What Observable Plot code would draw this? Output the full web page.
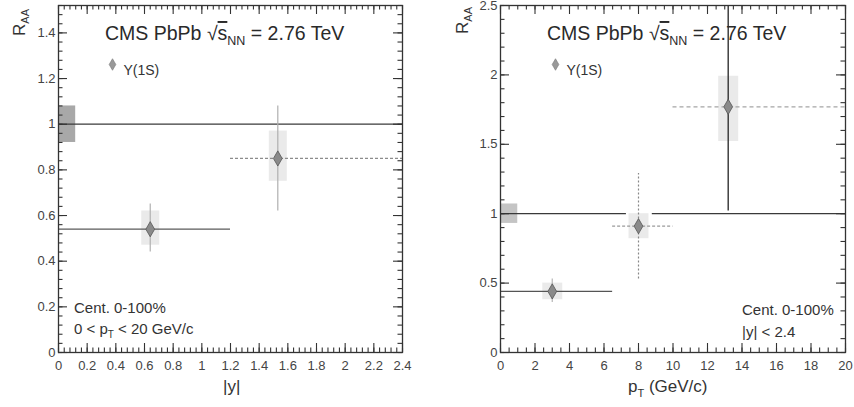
<!DOCTYPE html>
<html><head><meta charset="utf-8">
<script src="https://cdn.jsdelivr.net/npm/d3@7"></script>
<script src="https://cdn.jsdelivr.net/npm/@observablehq/plot@0.6"></script>
<style>
body{margin:0;background:#fff;}
#wrap{display:flex;width:854px;height:407px;overflow:hidden;}
svg{font-family:"Liberation Sans",Arial,sans-serif;}
</style></head><body><div id="wrap"></div>
<script>
// ---- Left panel: R_AA vs |y| ----
const yBinCenters = [0.64, 1.53];
const yBinLow = [0, 1.2];
const yBinHigh = [1.2, 2.4];
const raaVsY = [0.54, 0.85];
const raaVsYStatLo = [0.44, 0.62];
const raaVsYStatHi = [0.65, 1.08];
const raaVsYSystLo = [0.47, 0.75];
const raaVsYSystHi = [0.62, 0.97];
const globalBoxLeft = [{x1: 0, x2: 0.12, y1: 0.92, y2: 1.08}];
const unityLeft = [{x1: 0, x2: 2.4, y: 1}];
const xTicksLeft = [0, 0.2, 0.4, 0.6, 0.8, 1, 1.2, 1.4, 1.6, 1.8, 2, 2.2, 2.4];
const yTicksLeft = [0, 0.2, 0.4, 0.6, 0.8, 1, 1.2, 1.4];

// ---- Right panel: R_AA vs pT ----
const ptBinCenters = [3.0, 8.0, 13.2];
const ptBinLow = [0, 6.5, 10];
const ptBinHigh = [6.5, 10, 20];
const raaVsPt = [0.44, 0.91, 1.77];
const raaVsPtStatLo = [0.36, 0.53, 1.02];
const raaVsPtStatHi = [0.53, 1.29, 2.5];
const raaVsPtSystLo = [0.38, 0.82, 1.52];
const raaVsPtSystHi = [0.50, 1.00, 1.99];
const globalBoxRight = [{x1: 0, x2: 1, y1: 0.93, y2: 1.07}];
const unityRight = [{x1: 0, x2: 7.3, y: 1}, {x1: 8.8, x2: 20, y: 1}];
const xTicksRight = [0, 2, 4, 6, 8, 10, 12, 14, 16, 18, 20];
const yTicksRight = [0, 0.5, 1, 1.5, 2, 2.5];

const titleText = ["CMS PbPb ", "√", "s", "NN", " = 2.76 TeV"];
const legendLabel = "Υ(1S)";

const rowsLeft = yBinCenters.map((x, i) => ({x, lo: yBinLow[i], hi: yBinHigh[i], raa: raaVsY[i],
  sLo: raaVsYStatLo[i], sHi: raaVsYStatHi[i], yLo: raaVsYSystLo[i], yHi: raaVsYSystHi[i]}));
const rowsRight = ptBinCenters.map((x, i) => ({x, lo: ptBinLow[i], hi: ptBinHigh[i], raa: raaVsPt[i],
  sLo: raaVsPtStatLo[i], sHi: raaVsPtStatHi[i], yLo: raaVsPtSystLo[i], yHi: raaVsPtSystHi[i]}));

function minor(domain, step) { return d3.range(domain[0], domain[1] + step / 2, step); }

function makePanel(cfg) {
  const H = 407, mt = 5, mb = 55;
  const rows = cfg.rows;
  const marks = [
    Plot.rect(cfg.globalBox, {x1: "x1", x2: "x2", y1: "y1", y2: "y2", fill: cfg.globalFill}),
    Plot.ruleX(rows, {x: "x", y1: "yLo", y2: "yHi", stroke: "#bbb", strokeOpacity: 0.3, strokeWidth: cfg.boxW}),
    Plot.ruleY(cfg.unity, {x1: "x1", x2: "x2", y: "y", stroke: "#3a3a3a", strokeWidth: 1.3}),
  ];
  cfg.hStyles.forEach((s, i) => marks.push(
    Plot.ruleY(rows, {filter: (d, j) => j === i, x1: "lo", x2: "hi", y: "raa", stroke: s[0], strokeWidth: 1.2, strokeDasharray: s[1]})));
  cfg.vStyles.forEach((s, i) => marks.push(
    Plot.ruleX(rows, {filter: (d, j) => j === i, x: "x", y1: "sLo", y2: "sHi", stroke: s[0], strokeWidth: s[2] || 1.2, strokeDasharray: s[1]})));
  marks.push(Plot.dot(rows, {x: "x", y: "raa", symbol: "diamond", r: 4.6, fill: "#8a8a8a", stroke: "#555", strokeWidth: 0.8}));
  marks.push(Plot.frame({stroke: "#333", strokeWidth: 1.3}));
  marks.push(Plot.axisX(cfg.xTicks, {tickSize: 0, tickPadding: 8, label: null, fontSize: 13, fill: "#444", tickFormat: d => `${d}`}));
  marks.push(Plot.axisY(cfg.yTicks, {tickSize: 0, tickPadding: 3, label: null, fontSize: 13, fill: "#444", tickFormat: d => `${d}`}));
  marks.push(Plot.dot([legendLabel], {frameAnchor: "top-left", dx: cfg.legX - cfg.ml, dy: 59, symbol: "diamond", r: 3.5, fill: "#999", stroke: "#777", strokeWidth: 0.6}));
  marks.push(Plot.text([legendLabel], {text: d => d, frameAnchor: "top-left", dx: cfg.legX - cfg.ml + 11, dy: 60, textAnchor: "start", fontSize: 14, fill: "#333"}));

  const svg = Plot.plot({
    width: cfg.width, height: H, marginLeft: cfg.ml, marginRight: cfg.mr, marginTop: mt, marginBottom: mb,
    x: {domain: cfg.xDomain}, y: {domain: cfg.yDomain},
    style: {fontFamily: '"Liberation Sans", Arial, sans-serif', background: "#fff", overflow: "visible"},
    marks
  });
  const s = d3.select(svg);
  const fam = '"Liberation Sans", Arial, sans-serif';

  // inward frame ticks (ROOT style), positioned with the plot's own scales
  const scX = svg.scale && svg.scale("x"), scY = svg.scale && svg.scale("y");
  const fx = scX && scX.apply ? scX.apply : d3.scaleLinear(cfg.xDomain, [cfg.ml, cfg.width - cfg.mr]);
  const fy = scY && scY.apply ? scY.apply : d3.scaleLinear(cfg.yDomain, [H - mb, mt]);
  const L = cfg.ml, R = cfg.width - cfg.mr, B = H - mb, Tp = mt;
  const g = s.append("g").attr("stroke", "#333").attr("stroke-width", 1.1);
  const hLine = (x1, x2, y) => g.append("line").attr("x1", x1).attr("x2", x2).attr("y1", y).attr("y2", y);
  const vLine = (x, y1, y2) => g.append("line").attr("x1", x).attr("x2", x).attr("y1", y1).attr("y2", y2);
  const xMin = minor(cfg.xDomain, cfg.xMinor), yMin = minor(cfg.yDomain, cfg.yMinor);
  cfg.xTicks.forEach(v => { const p = fx(v) + 0.5; vLine(p, B, B - 9); vLine(p, Tp, Tp + 9); });
  xMin.forEach(v => { const p = fx(v) + 0.5; vLine(p, B, B - 4.5); vLine(p, Tp, Tp + 4.5); });
  cfg.yTicks.forEach(v => { const p = fy(v) + 0.5; hLine(L, L + 9, p); hLine(R, R - 9, p); });
  yMin.forEach(v => { const p = fy(v) + 0.5; hLine(L, L + 4.5, p); hLine(R, R - 4.5, p); });

  const T = (x, y, size) => s.append("text").attr("x", x).attr("y", y).attr("font-size", size)
    .attr("fill", "#2a2a2a").attr("font-family", fam).attr("text-anchor", "start");
  // title
  const t = T(cfg.titleX, 40, 19.5);
  t.append("tspan").text(titleText[0]);
  t.append("tspan").text(titleText[1]);
  t.append("tspan").text(titleText[2]).attr("text-decoration", "overline");
  t.append("tspan").text(titleText[3]).attr("font-size", 12.5).attr("dy", 5);
  t.append("tspan").text(titleText[4]).attr("dy", -5);
  // R_AA
  const r = s.append("text").attr("transform", `translate(${cfg.raaX},${cfg.raaY}) rotate(-90)`)
    .attr("text-anchor", "end").attr("font-size", 17).attr("fill", "#333").attr("font-family", fam);
  r.append("tspan").text("R");
  r.append("tspan").text("AA").attr("font-size", 11).attr("dy", 4);
  // x label
  const xl = T(cfg.xLabX, 392, 17).attr("fill", "#333");
  cfg.xLabel.forEach(p => { const ts = xl.append("tspan").text(p[0]); if (p[1]) ts.attr("dy", p[1]); if (p[2]) ts.attr("font-size", 11); });
  // annotations
  cfg.notes.forEach(n => {
    const tx = T(n.x, n.y, 15).attr("fill", "#333");
    n.parts.forEach(p => { const ts = tx.append("tspan").text(p[0]); if (p[1]) ts.attr("dy", p[1]); if (p[2]) ts.attr("font-size", 10); });
  });
  return svg;
}

const wrap = document.getElementById("wrap");
wrap.appendChild(makePanel({
  width: 430, ml: 58, mr: 28, xDomain: [0, 2.4], yDomain: [0, 1.52], xMinor: 0.04, yMinor: 0.04,
  xTicks: xTicksLeft, yTicks: yTicksLeft, rows: rowsLeft, globalBox: globalBoxLeft, globalFill: "#a8a8a8",
  unity: unityLeft, boxW: 18,
  hStyles: [["#5a5a5a", null], ["#8c8c8c", "3,2"]],
  vStyles: [["#b0b0b0", null], ["#b0b0b0", null]],
  titleX: 105, legX: 112, raaX: 25, raaY: 9,
  xLabX: 223, xLabel: [["|y|"]],
  notes: [
    {x: 74, y: 313, parts: [["Cent. 0-100%"]]},
    {x: 74, y: 334, parts: [["0 < p"], ["T", 4, true], [" < 20 GeV/c", -4]]}
  ]
}));
wrap.appendChild(makePanel({
  width: 424, ml: 70, mr: 9, xDomain: [0, 20], yDomain: [0, 2.5], xMinor: 0.5, yMinor: 0.1,
  xTicks: xTicksRight, yTicks: yTicksRight, rows: rowsRight, globalBox: globalBoxRight, globalFill: "#c4c4c4",
  unity: unityRight, boxW: 20,
  hStyles: [["#555", null], ["#9a9a9a", "3,2"], ["#a5a5a5", "4,3"]],
  vStyles: [["#b5b5b5", null], ["#888", "2,2"], ["#333", null, 1.4]],
  titleX: 117, legX: 125, raaX: 38, raaY: 7,
  xLabX: 198, xLabel: [["p"], ["T", 5, true], [" (GeV/c)", -5]],
  notes: [
    {x: 312, y: 315, parts: [["Cent. 0-100%"]]},
    {x: 312, y: 337, parts: [["|y| < 2.4"]]}
  ]
}));
</script></body></html>
